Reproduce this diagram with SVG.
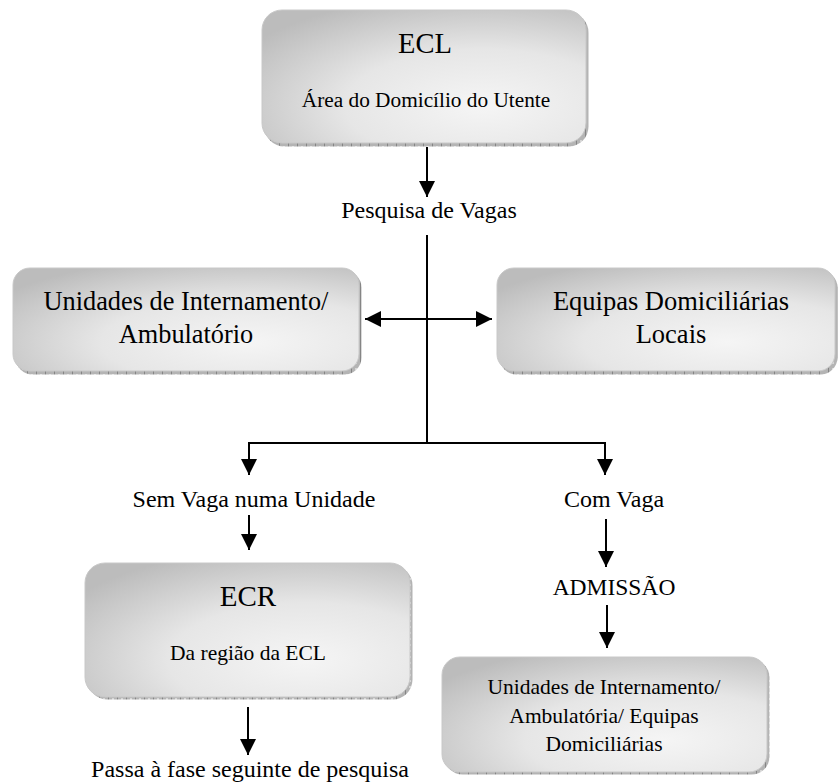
<svg xmlns="http://www.w3.org/2000/svg" width="838" height="782" viewBox="0 0 838 782">
  <defs>
    <radialGradient id="boxFill" cx="0.68" cy="0.72" r="0.85" fx="0.68" fy="0.72">
      <stop offset="0" stop-color="#f5f5f5"/>
      <stop offset="0.5" stop-color="#e6e6e6"/>
      <stop offset="1" stop-color="#bcbcbc"/>
    </radialGradient>
    <pattern id="shadowTicks" width="9" height="6" patternUnits="userSpaceOnUse">
      <rect width="9" height="6" fill="#b4b4b4"/>
      <rect x="0" width="1" height="6" fill="#858585"/>
      <rect x="4" y="2" width="2" height="2" fill="#d6d6d6"/>
    </pattern>
    <marker id="arrow" viewBox="0 0 16 16" refX="16" refY="8" markerWidth="16" markerHeight="16" markerUnits="userSpaceOnUse" orient="auto-start-reverse">
      <path d="M0,0 L16,8 L0,16 Z" fill="#000"/>
    </marker>
  </defs>
  <style>
    .shadow { fill: url(#shadowTicks); }
    .box { fill: url(#boxFill); stroke: #c8c8c8; stroke-width: 1; }
    .t { font-family: "Liberation Serif", "Times New Roman", "DejaVu Serif", serif; fill: #000; text-anchor: middle; }
    .conn { fill: none; stroke: #000; stroke-width: 2; }
  </style>

  <rect width="838" height="782" fill="#fff"/>

  <!-- nodes -->
  <g id="node-ecl">
    <rect class="shadow" x="264.5" y="12.5" width="324" height="134" rx="20"/>
    <rect class="box" x="262" y="10" width="324" height="133" rx="20"/>
    <text class="t" x="425" y="53" font-size="28.5">ECL</text>
    <text class="t" x="426" y="107" font-size="21.3">Área do Domicílio do Utente</text>
  </g>

  <g id="label-pesquisa">
    <text class="t" x="429" y="218" font-size="24">Pesquisa de Vagas</text>
  </g>

  <g id="node-unidades">
    <rect class="shadow" x="15.5" y="270.5" width="346" height="104" rx="17"/>
    <rect class="box" x="13" y="268" width="346" height="103" rx="17"/>
    <text class="t" x="186" y="310" font-size="26.3">Unidades de Internamento/</text>
    <text class="t" x="186" y="343" font-size="26.3">Ambulatório</text>
  </g>

  <g id="node-equipas">
    <rect class="shadow" x="499.5" y="270.5" width="338" height="104" rx="17"/>
    <rect class="box" x="497" y="268" width="338" height="103" rx="17"/>
    <text class="t" x="671" y="310" font-size="26.5">Equipas Domiciliárias</text>
    <text class="t" x="671" y="343" font-size="26.5">Locais</text>
  </g>

  <g id="label-sem-vaga">
    <text class="t" x="254" y="507" font-size="24">Sem Vaga numa Unidade</text>
  </g>

  <g id="label-com-vaga">
    <text class="t" x="614" y="507" font-size="24">Com Vaga</text>
  </g>

  <g id="label-admissao">
    <text class="t" x="614" y="595" font-size="23.5">ADMISSÃO</text>
  </g>

  <g id="node-ecr">
    <rect class="shadow" x="87.5" y="565.5" width="325" height="134" rx="20"/>
    <rect class="box" x="85" y="563" width="325" height="134" rx="20"/>
    <text class="t" x="248" y="606" font-size="29">ECR</text>
    <text class="t" x="248" y="660" font-size="21.5">Da região da ECL</text>
  </g>

  <g id="label-passa">
    <text class="t" x="250" y="777" font-size="24">Passa à fase seguinte de pesquisa</text>
  </g>

  <g id="node-admitidos">
    <rect class="shadow" x="444.5" y="659.5" width="325" height="115" rx="18"/>
    <rect class="box" x="442" y="657" width="325" height="115" rx="18"/>
    <text class="t" x="604" y="694" font-size="21.5">Unidades de Internamento/</text>
    <text class="t" x="604" y="723" font-size="21.5">Ambulatória/ Equipas</text>
    <text class="t" x="604" y="751" font-size="21.5">Domiciliárias</text>
  </g>

  <!-- connectors -->
  <g id="connectors">
    <path class="conn" d="M427,147 V197" marker-end="url(#arrow)"/>
    <path class="conn" d="M427,235 V443"/>
    <path class="conn" d="M365,319 H492" marker-start="url(#arrow)" marker-end="url(#arrow)"/>
    <path class="conn" d="M427,443 H249 V475" marker-end="url(#arrow)"/>
    <path class="conn" d="M427,443 H605 V475" marker-end="url(#arrow)"/>
    <path class="conn" d="M249,515 V550" marker-end="url(#arrow)"/>
    <path class="conn" d="M606,519 V567" marker-end="url(#arrow)"/>
    <path class="conn" d="M607,605 V648" marker-end="url(#arrow)"/>
    <path class="conn" d="M248,707 V755" marker-end="url(#arrow)"/>
  </g>
</svg>
